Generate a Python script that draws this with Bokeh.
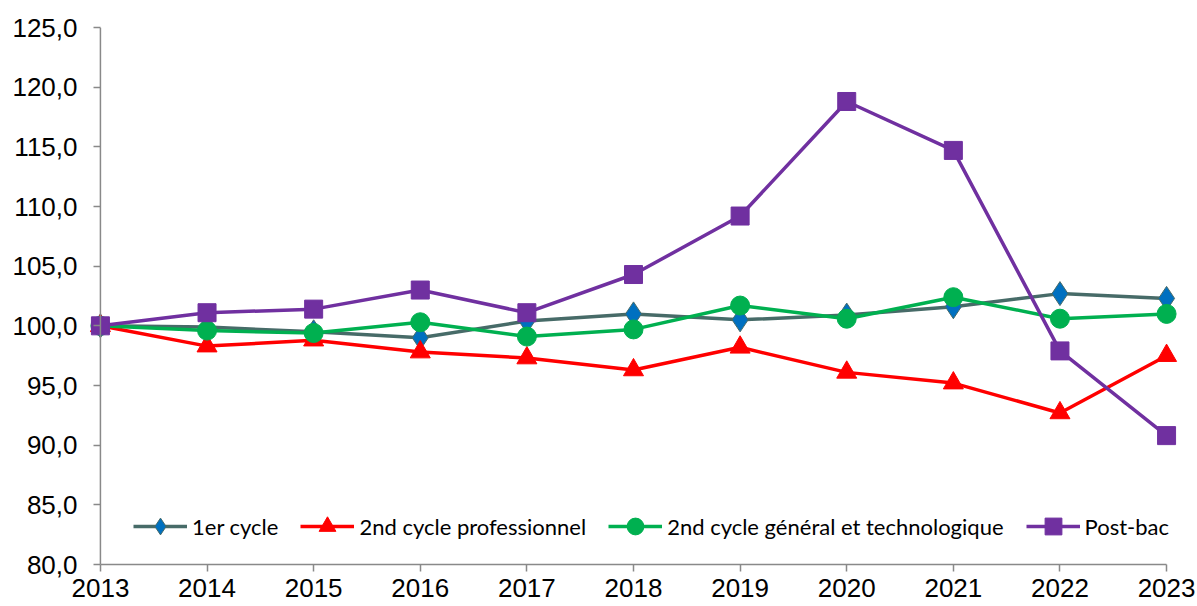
from bokeh.plotting import figure
from bokeh.models import FixedTicker, CustomJSTickFormatter, Range1d, Legend, Span
from bokeh.embed import file_html
from bokeh.resources import INLINE

years = [2013, 2014, 2015, 2016, 2017, 2018, 2019, 2020, 2021, 2022, 2023]
premier_cycle = [100.0, 99.9, 99.5, 99.0, 100.4, 101.0, 100.5, 100.9, 101.6, 102.7, 102.3]
second_pro = [100.0, 98.3, 98.8, 97.8, 97.3, 96.3, 98.2, 96.1, 95.2, 92.7, 97.5]
second_gt = [100.0, 99.6, 99.4, 100.3, 99.1, 99.7, 101.7, 100.6, 102.4, 100.6, 101.0]
post_bac = [100.0, 101.1, 101.4, 103.0, 101.1, 104.3, 109.2, 118.8, 114.7, 97.9, 90.8]
y_ticks = [80, 85, 90, 95, 100, 105, 110, 115, 120, 125]

labels = ["1er cycle", "2nd cycle professionnel", "2nd cycle général et technologique", "Post-bac"]

pad = 0.14
p = figure(width=1197, height=606, output_backend="svg", toolbar_location=None,
           x_range=Range1d(2013 - pad, 2023 + pad), y_range=Range1d(80, 125),
           min_border_left=85, min_border_right=16, min_border_top=27, min_border_bottom=42)
p.outline_line_color = None
p.xgrid.visible = False
p.ygrid.visible = False

axis_grey = "#898989"
tick_font = "Liberation Sans"
for ax in (p.xaxis, p.yaxis):
    ax.axis_line_color = axis_grey
    ax.axis_line_width = 1.5
    ax.major_tick_line_color = axis_grey
    ax.major_tick_line_width = 1.5
    ax.minor_tick_line_color = None
    ax.major_label_text_font = tick_font
    ax.major_label_text_font_size = "26px"
    ax.major_label_text_color = "black"

p.xaxis.ticker = FixedTicker(ticks=years)
p.xaxis.formatter = CustomJSTickFormatter(code="return tick.toFixed(0);")
p.xaxis.bounds = (2013, 2023)
p.xaxis.major_tick_in = 0
p.xaxis.major_tick_out = 7
p.xaxis.major_label_standoff = 7
p.xaxis.major_label_text_line_height = 0.5

# y axis sits at the frame edge; its ticks are shifted to sit just left of x=2013
p.yaxis.ticker = FixedTicker(ticks=y_ticks)
p.yaxis.formatter = CustomJSTickFormatter(code="return tick.toFixed(1).replace('.', ',');")
p.yaxis.axis_line_color = None
p.yaxis.major_tick_in = 15
p.yaxis.major_tick_out = -8
p.yaxis.major_label_standoff = 8
p.add_layout(Span(location=2013, dimension="height", line_color=axis_grey, line_width=1.5))

items = []
r1 = p.line(years, premier_cycle, line_color="#476B68", line_width=3.5)
m1 = p.scatter(years, premier_cycle, marker="diamond", size=24, fill_color="#0070C0",
               line_color="#476B68", line_width=1)
items.append((labels[0], [r1, m1]))

r2 = p.line(years, second_pro, line_color="#FF0000", line_width=3.5)
m2 = p.scatter(years, second_pro, marker="triangle", size=20, fill_color="#FF0000",
               line_color="#FF0000")
items.append((labels[1], [r2, m2]))

r3 = p.line(years, second_gt, line_color="#00B050", line_width=3.5)
m3 = p.scatter(years, second_gt, marker="circle", size=19, fill_color="#00B050",
               line_color="#00B050")
items.append((labels[2], [r3, m3]))

r4 = p.line(years, post_bac, line_color="#7030A0", line_width=3.5)
m4 = p.scatter(years, post_bac, marker="square", size=18, fill_color="#7030A0",
               line_color="#7030A0")
items.append((labels[3], [r4, m4]))

legend = Legend(items=items, orientation="horizontal", location=(48, 17),
                glyph_width=54, glyph_height=42, label_standoff=5, spacing=22,
                padding=4, margin=0, background_fill_alpha=0, border_line_color=None,
                label_text_font="Lato", label_text_font_size="22px", label_text_color="black")
p.add_layout(legend, "center")

open("out.html", "w").write(file_html(p, INLINE))
